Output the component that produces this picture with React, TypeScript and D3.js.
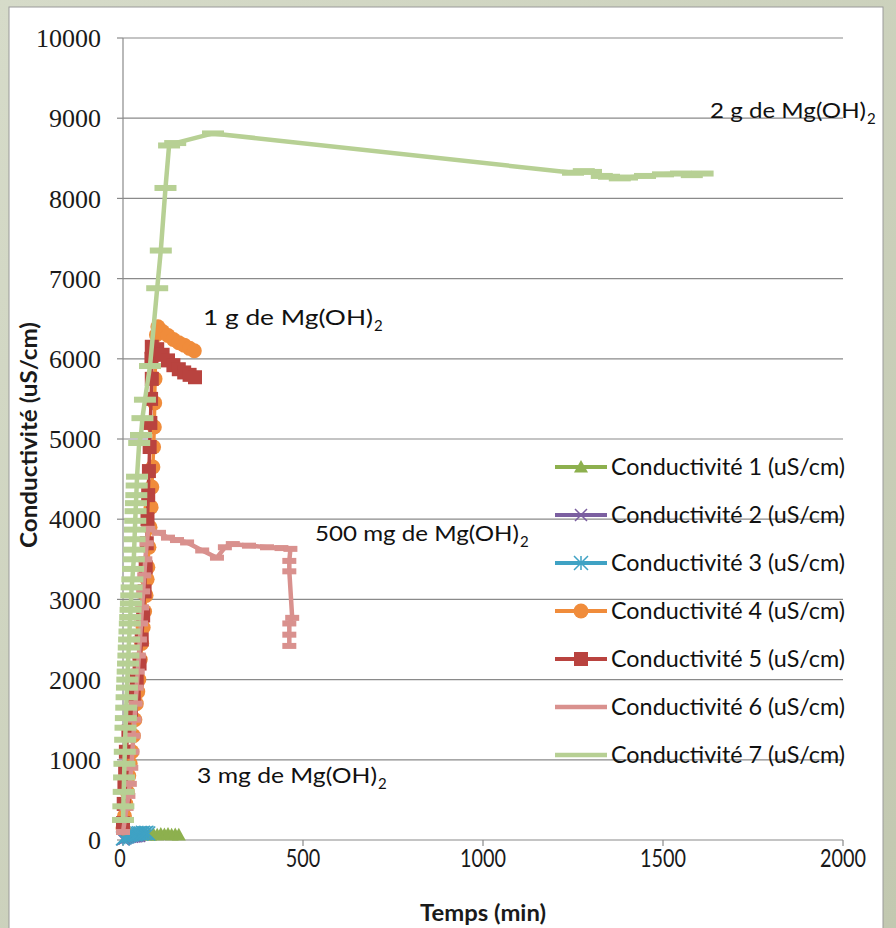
import React from "react";
import * as d3 from "d3";

const W = 896;
const H = 928;

// Time axis ticks (min) and conductivity ticks (uS/cm)
const xTicks = [0, 500, 1000, 1500, 2000];
const yTicks = [0, 1000, 2000, 3000, 4000, 5000, 6000, 7000, 8000, 9000, 10000];

const seriesNames = [
  "Conductivité 1 (uS/cm)",
  "Conductivité 2 (uS/cm)",
  "Conductivité 3 (uS/cm)",
  "Conductivité 4 (uS/cm)",
  "Conductivité 5 (uS/cm)",
  "Conductivité 6 (uS/cm)",
  "Conductivité 7 (uS/cm)",
];
const seriesColors = ["#8db04e", "#7b5fa0", "#3fa2c4", "#f08c3b", "#b9433f", "#d9918e", "#b7d094"];
const seriesMarkers = ["triangle", "x", "star", "circle", "square", "dashS", "dashL"];

// [temps (min), conductivité (uS/cm)]
const cond1: [number, number][] = [
  [75, 60], [85, 70], [95, 65], [105, 75], [115, 70], [125, 75], [135, 65], [145, 70], [155, 65],
];
const cond2: [number, number][] = [
  [0, 10], [5, 20], [10, 30], [15, 35], [20, 40], [25, 40], [30, 45], [35, 45], [40, 50], [45, 50],
];
const cond3: [number, number][] = [
  [0, 20], [5, 35], [10, 45], [15, 55], [20, 65], [25, 70], [30, 75], [35, 70], [40, 80], [45, 85],
  [50, 80], [55, 90], [60, 85], [65, 90], [70, 80],
];
const cond4: [number, number][] = [
  [0, 150], [4, 300], [8, 450], [12, 600], [16, 800], [20, 950], [25, 1100], [29, 1300], [33, 1500],
  [37, 1700], [41, 1850], [44, 2000], [48, 2250], [52, 2450], [56, 2650], [60, 2850], [64, 3050],
  [67, 3250], [69, 3400], [72, 3650], [75, 3900], [78, 4150], [80, 4400], [83, 4650], [85, 4900],
  [87, 5150], [88, 5450], [89, 5750], [91, 6050], [93, 6300], [97, 6400], [110, 6340], [125, 6290],
  [140, 6240], [155, 6200], [170, 6170], [185, 6130], [198, 6100],
];
const cond5: [number, number][] = [
  [0, 210], [2, 450], [4, 700], [6, 900], [8, 1100], [15, 1350], [22, 1600], [30, 1800], [38, 2000],
  [46, 2200], [52, 2500], [56, 2800], [60, 3100], [63, 3400], [66, 3700], [68, 4000], [70, 4300],
  [72, 4600], [74, 4900], [76, 5200], [78, 5500], [80, 5750], [79, 6000], [80, 6150], [95, 6120],
  [110, 6050], [125, 5980], [140, 5920], [155, 5870], [170, 5830], [185, 5800], [200, 5770],
];
const cond6: [number, number][] = [
  [0, 100], [5, 250], [10, 400], [15, 550], [19, 700], [23, 900], [26, 1100], [29, 1300], [32, 1500],
  [35, 1700], [38, 1900], [41, 2100], [44, 2300], [47, 2500], [50, 2700], [53, 2900], [56, 3100],
  [59, 3300], [62, 3500], [66, 3700], [70, 3880], [100, 3830], [125, 3770], [150, 3740], [178, 3710],
  [220, 3610], [261, 3520], [283, 3650], [305, 3690], [350, 3670], [400, 3650], [440, 3640],
  [465, 3630], [462, 3480], [462, 3350], [470, 2770], [462, 2700], [462, 2560], [462, 2420],
];
const cond7: [number, number][] = [
  [0, 250], [1, 420], [2, 600], [3, 780], [4, 950], [5, 1100], [6, 1250], [7, 1400], [8, 1520],
  [9, 1650], [10, 1780], [11, 1900], [12, 2000], [13, 2100], [14, 2200], [15, 2300], [16, 2400],
  [17, 2500], [18, 2600], [19, 2700], [20, 2780], [21, 2870], [22, 2950], [23, 3050], [24, 3150],
  [26, 3250], [28, 3380], [30, 3500], [31, 3620], [32, 3750], [33, 3870], [34, 3980], [35, 4100],
  [36, 4200], [37, 4300], [38, 4420], [39, 4530], [45, 4950], [50, 5050], [54, 5260], [61, 5490],
  [75, 5910], [95, 6880], [105, 7350], [118, 8130], [128, 8660], [145, 8690], [250, 8810],
  [1250, 8320], [1280, 8340], [1300, 8330], [1330, 8280], [1350, 8270], [1380, 8250], [1400, 8260],
  [1450, 8280], [1500, 8300], [1550, 8310], [1580, 8290], [1610, 8310],
];
const allSeries = [cond1, cond2, cond3, cond4, cond5, cond6, cond7];

// Dose labels placed next to their curves
const doseLabels = [
  { text: "2 g de Mg(OH)", x: 710, y: 118, len: 156 },
  { text: "1 g de Mg(OH)", x: 203, y: 325, len: 170 },
  { text: "500 mg de  Mg(OH)", x: 315, y: 541, len: 204 },
  { text: "3 mg de Mg(OH)", x: 197, y: 783, len: 180 },
];

const x = d3.scaleLinear().domain([0, 2000]).range([123, 843]);
const y = d3.scaleLinear().domain([0, 10000]).range([840, 38]);

const sans = "Lato, 'Open Sans', 'DejaVu Sans', sans-serif";
const serif = "'Liberation Serif', 'DejaVu Serif', 'Times New Roman', serif";

function Marker({ kind, cx, cy, color }: { kind: string; cx: number; cy: number; color: string }) {
  switch (kind) {
    case "triangle": {
      const s = 7;
      return <path d={`M${cx},${cy - s}L${cx + s},${cy + s * 0.8}L${cx - s},${cy + s * 0.8}Z`} fill={color} />;
    }
    case "x": {
      const s = 6;
      return (
        <path d={`M${cx - s},${cy - s}L${cx + s},${cy + s}M${cx - s},${cy + s}L${cx + s},${cy - s}`} stroke={color} strokeWidth={1.5} />
      );
    }
    case "star": {
      const s = 7;
      return (
        <path
          d={`M${cx - s},${cy - s}L${cx + s},${cy + s}M${cx - s},${cy + s}L${cx + s},${cy - s}M${cx},${cy - s}L${cx},${cy + s}`}
          stroke={color}
          strokeWidth={1.5}
        />
      );
    }
    case "circle":
      return <circle cx={cx} cy={cy} r={7.5} fill={color} />;
    case "square":
      return <rect x={cx - 7} y={cy - 7} width={14} height={14} fill={color} />;
    case "dashS":
      return <rect x={cx - 7} y={cy - 3} width={14} height={6} fill={color} />;
    case "dashL":
      return <rect x={cx - 11} y={cy - 3} width={22} height={6} fill={color} />;
    default:
      return null;
  }
}

export default function App() {
  const line = d3
    .line<[number, number]>()
    .x((d) => x(d[0]))
    .y((d) => y(d[1]));

  const legendY0 = 467;
  const legendStep = 48;

  return (
    <svg
      width={W}
      height={H}
      viewBox={`0 0 ${W} ${H}`}
      style={{ position: "absolute", left: 0, top: 0, display: "block" }}
    >
      <defs>
        <linearGradient id="bg" x1="0" y1="0" x2="1" y2="1">
          <stop offset="0" stopColor="#d6dbc9" />
          <stop offset="1" stopColor="#c2c8b0" />
        </linearGradient>
      </defs>
      <rect x={0} y={0} width={W} height={H} fill="url(#bg)" />
      <rect x={9} y={7} width={874} height={925} fill="#ffffff" stroke="#9a9a9a" strokeWidth={1} />

      {/* gridlines */}
      {yTicks.slice(1).map((t) => (
        <line key={`g${t}`} x1={x(0)} x2={x(2000)} y1={y(t)} y2={y(t)} stroke="#8a8a8a" strokeWidth={1.2} />
      ))}

      {/* axes */}
      <line x1={x(0)} x2={x(0)} y1={y(0)} y2={y(10000)} stroke="#8a8a8a" strokeWidth={1.2} />
      <line x1={x(0)} x2={x(2000)} y1={y(0)} y2={y(0)} stroke="#8a8a8a" strokeWidth={1.2} />
      {yTicks.map((t) => (
        <g key={`yt${t}`}>
          <line x1={x(0) - 6} x2={x(0)} y1={y(t)} y2={y(t)} stroke="#8a8a8a" strokeWidth={1.2} />
          <text x={101} y={y(t)} dy="0.35em" textAnchor="end" fontFamily={serif} fontSize={26} fill="#1a1a1a">
            {t}
          </text>
        </g>
      ))}
      {xTicks.map((t) => (
        <g key={`xt${t}`}>
          <line x1={x(t)} x2={x(t)} y1={y(0)} y2={y(0) + 6} stroke="#8a8a8a" strokeWidth={1.2} />
          <text
            x={x(t) - (t === 0 ? 3 : 0)}
            y={867}
            textAnchor="middle"
            fontFamily={sans}
            fontSize={25}
            fill="#1a1a1a"
            textLength={String(t).length * 11.5}
            lengthAdjust="spacingAndGlyphs"
          >
            {t}
          </text>
        </g>
      ))}

      {/* axis titles */}
      <text
        x={483}
        y={921}
        textAnchor="middle"
        fontFamily={sans}
        fontWeight="bold"
        fontSize={22}
        fill="#1a1a1a"
        textLength={126}
        lengthAdjust="spacingAndGlyphs"
      >
        Temps (min)
      </text>
      <text
        transform="translate(37,435) rotate(-90)"
        textAnchor="middle"
        fontFamily={sans}
        fontWeight="bold"
        fontSize={22}
        fill="#1a1a1a"
        textLength={226}
        lengthAdjust="spacingAndGlyphs"
      >
        Conductivité (uS/cm)
      </text>

      {/* series */}
      {allSeries.map((data, i) => (
        <g key={`s${i}`}>
          <path
            d={line(data) || ""}
            fill="none"
            stroke={seriesColors[i]}
            strokeWidth={i >= 5 ? 4.5 : 3.5}
            strokeLinejoin="round"
          />
          {data.map((d, j) => (
            <Marker key={j} kind={seriesMarkers[i]} cx={x(d[0])} cy={y(d[1])} color={seriesColors[i]} />
          ))}
        </g>
      ))}

      {/* dose labels */}
      {doseLabels.map((a, i) => (
        <g key={`a${i}`}>
          <text
            x={a.x}
            y={a.y}
            fontFamily={sans}
            fontSize={22}
            fill="#111"
            textLength={a.len}
            lengthAdjust="spacingAndGlyphs"
          >
            {a.text}
          </text>
          <text x={a.x + a.len + 1} y={a.y + 6} fontFamily={sans} fontSize={15} fill="#111">
            2
          </text>
        </g>
      ))}

      {/* legend */}
      {seriesNames.map((name, i) => {
        const cy = legendY0 + i * legendStep;
        return (
          <g key={`l${i}`}>
            <line x1={555} x2={607} y1={cy} y2={cy} stroke={seriesColors[i]} strokeWidth={i >= 5 ? 4.5 : 4} />
            {i < 5 && <Marker kind={seriesMarkers[i]} cx={581} cy={cy} color={seriesColors[i]} />}
            <text
              x={611}
              y={cy + 8}
              fontFamily={sans}
              fontSize={23}
              fill="#111"
              textLength={234}
              lengthAdjust="spacingAndGlyphs"
            >
              {name}
            </text>
          </g>
        );
      })}
    </svg>
  );
}
